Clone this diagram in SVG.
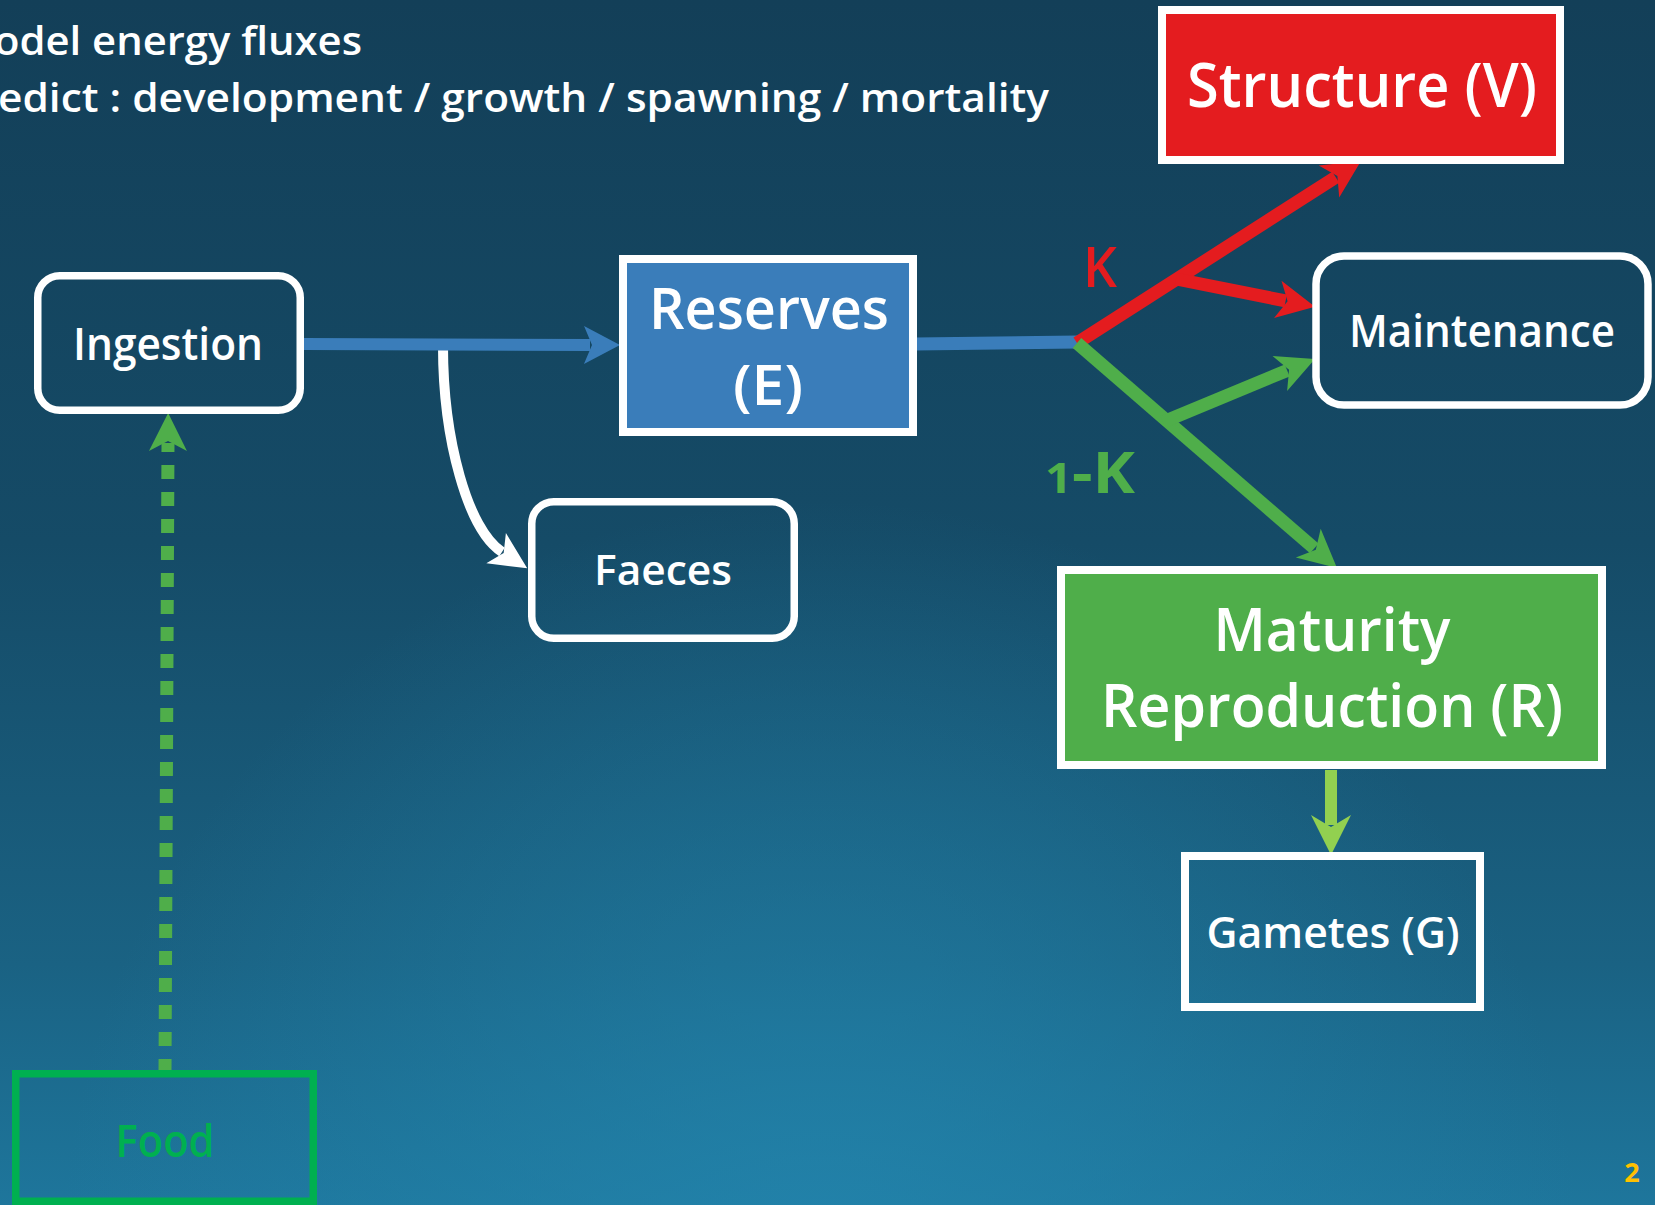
<svg xmlns="http://www.w3.org/2000/svg" width="1655" height="1205" viewBox="0 0 1655 1205">
  <defs>
    <linearGradient id="bg" x1="0" y1="0" x2="0" y2="1">
      <stop offset="0" stop-color="#133f58"/>
      <stop offset="0.45" stop-color="#154b67"/>
      <stop offset="0.8" stop-color="#1a6283"/>
      <stop offset="1" stop-color="#1e769c"/>
    </linearGradient>
    <radialGradient id="glow" cx="820" cy="1260" r="760" gradientUnits="userSpaceOnUse">
      <stop offset="0" stop-color="#2386ae" stop-opacity="0.75"/>
      <stop offset="1" stop-color="#2386ae" stop-opacity="0"/>
    </radialGradient>
    <!-- stealth arrowheads: tip 30px ahead of the line end, notch 2px inside -->
    <marker id="hd-blue" markerUnits="userSpaceOnUse" markerWidth="80" markerHeight="80" refX="0" refY="0" orient="auto" overflow="visible">
      <path d="M30,0 L-6,-19 L2,0 L-6,19 Z" fill="#3a7dba"/>
    </marker>
    <marker id="hd-red" markerUnits="userSpaceOnUse" markerWidth="80" markerHeight="80" refX="0" refY="0" orient="auto" overflow="visible">
      <path d="M30,0 L-8,-19 L2,0 L-8,19 Z" fill="#e41c1f"/>
    </marker>
    <marker id="hd-green" markerUnits="userSpaceOnUse" markerWidth="80" markerHeight="80" refX="0" refY="0" orient="auto" overflow="visible">
      <path d="M30,0 L-8,-19 L2,0 L-8,19 Z" fill="#4fae4a"/>
    </marker>
    <marker id="hd-lime" markerUnits="userSpaceOnUse" markerWidth="80" markerHeight="80" refX="0" refY="0" orient="auto" overflow="visible">
      <path d="M30,0 L-10,-20 L2,0 L-10,20 Z" fill="#92d050"/>
    </marker>
    <marker id="hd-white" markerUnits="userSpaceOnUse" markerWidth="80" markerHeight="80" refX="0" refY="0" orient="auto" overflow="visible">
      <path d="M30,0 L-7,-18 L2,0 L-7,18 Z" fill="#ffffff"/>
    </marker>
  </defs>
  <style>
    .lbl { font-family: "Open Sans", "Noto Sans", "DejaVu Sans", sans-serif; font-weight: 600; fill: #ffffff; text-anchor: middle; }
    .body { font-family: "Open Sans", "Noto Sans", "DejaVu Sans", sans-serif; font-weight: 600; fill: #ffffff; font-size: 40px; }
    .round { fill: none; stroke: #ffffff; stroke-width: 7.5; }
    .square { stroke: #ffffff; stroke-width: 8; }
    .flow { fill: none; stroke-linecap: butt; stroke-linejoin: round; }
  </style>

  <!-- background -->
  <rect x="0" y="0" width="1655" height="1205" fill="url(#bg)"/>
  <rect x="0" y="0" width="1655" height="1205" fill="url(#glow)"/>

  <!-- bullet lines -->
  <g id="header">
    <text class="body" x="-6" y="55" textLength="368" lengthAdjust="spacingAndGlyphs">odel energy fluxes</text>
    <text class="body" x="-2" y="112" textLength="1051" lengthAdjust="spacingAndGlyphs">edict : development / growth / spawning / mortality</text>
  </g>

  <!-- connectors -->
  <g id="connectors">
    <!-- faeces loss (drawn under the assimilation line) -->
    <path class="flow" d="M443,346 C443,440 468,530 502,552" stroke="#ffffff" stroke-width="10" marker-end="url(#hd-white)"/>
    <!-- ingestion to reserves -->
    <path class="flow" d="M304,344 L590,345" stroke="#3a7dba" stroke-width="12" marker-end="url(#hd-blue)"/>
    <!-- reserves to kappa split -->
    <path class="flow" d="M915,344 L1078,342" stroke="#3a7dba" stroke-width="13"/>
    <!-- kappa branch -->
    <path class="flow" d="M1077,343 L1335.7,177.2" stroke="#e41c1f" stroke-width="13" marker-end="url(#hd-red)"/>
    <path class="flow" d="M1176,279 L1285.6,300.9" stroke="#e41c1f" stroke-width="13" marker-end="url(#hd-red)"/>
    <!-- 1-kappa branch -->
    <path class="flow" d="M1077,343 L1314.3,548.4" stroke="#4fae4a" stroke-width="13" marker-end="url(#hd-green)"/>
    <path class="flow" d="M1163,422 L1287.2,370.4" stroke="#4fae4a" stroke-width="13" marker-end="url(#hd-green)"/>
    <!-- maturity/reproduction to gametes -->
    <path class="flow" d="M1331,770 L1331,825" stroke="#92d050" stroke-width="12" marker-end="url(#hd-lime)"/>
    <!-- food uptake (dotted) -->
    <path class="flow" d="M165,1073 L168,443" stroke="#4fae4a" stroke-width="13" stroke-dasharray="14 13" marker-end="url(#hd-green)"/>
  </g>

  <!-- flux labels -->
  <g id="labels">
    <text x="1083" y="287" font-family="Open Sans, Noto Sans, sans-serif" font-weight="600" font-size="56" fill="#e41c1f" textLength="34" lengthAdjust="spacingAndGlyphs">K</text>
    <text x="1045" y="493" font-family="Open Sans, Noto Sans, sans-serif" font-weight="700" font-size="57" fill="#4fae4a" textLength="90" lengthAdjust="spacingAndGlyphs"><tspan font-size="42">1</tspan>-K</text>
  </g>

  <g id="node-ingestion">
    <rect class="round" x="37.75" y="275.75" width="262.5" height="134.5" rx="22"/>
    <text class="lbl" x="168" y="360" font-size="45" textLength="190" lengthAdjust="spacingAndGlyphs">Ingestion</text>
  </g>

  <g id="node-reserves">
    <rect class="square" x="623" y="259" width="290" height="173" fill="#3a7dba"/>
    <text class="lbl" x="769" y="329" font-size="58" textLength="240" lengthAdjust="spacingAndGlyphs">Reserves</text>
    <text class="lbl" x="768" y="405" font-size="56" textLength="70" lengthAdjust="spacingAndGlyphs">(E)</text>
  </g>

  <g id="node-faeces">
    <rect class="round" x="531.75" y="501.75" width="262.5" height="136.5" rx="22"/>
    <text class="lbl" x="663" y="585" font-size="42" textLength="138" lengthAdjust="spacingAndGlyphs">Faeces</text>
  </g>

  <g id="node-structure">
    <rect class="square" x="1162" y="10" width="398" height="150" fill="#e41c1f"/>
    <text class="lbl" x="1362" y="107" font-size="62" textLength="350" lengthAdjust="spacingAndGlyphs">Structure (V)</text>
  </g>

  <g id="node-maintenance">
    <rect class="round" x="1316" y="256" width="332" height="149" rx="28" stroke-width="8"/>
    <text class="lbl" x="1482" y="347" font-size="45" textLength="266" lengthAdjust="spacingAndGlyphs">Maintenance</text>
  </g>

  <g id="node-maturity">
    <rect class="square" x="1061" y="570" width="541" height="195" fill="#4fae4a"/>
    <text class="lbl" x="1332" y="651" font-size="60" textLength="237" lengthAdjust="spacingAndGlyphs">Maturity</text>
    <text class="lbl" x="1332" y="727" font-size="60" textLength="462" lengthAdjust="spacingAndGlyphs">Reproduction (R)</text>
  </g>

  <g id="node-gametes">
    <rect class="square" x="1185" y="856" width="295" height="151" fill="none"/>
    <text class="lbl" x="1333" y="948" font-size="44" textLength="253" lengthAdjust="spacingAndGlyphs">Gametes (G)</text>
  </g>

  <g id="node-food">
    <rect x="15.75" y="1073.75" width="297.5" height="127.5" fill="none" stroke="#00b050" stroke-width="7.5"/>
    <text x="165" y="1157" font-family="Open Sans, Noto Sans, sans-serif" font-weight="600" font-size="46" fill="#00b050" text-anchor="middle" textLength="99" lengthAdjust="spacingAndGlyphs">Food</text>
  </g>

  <!-- slide number -->
  <text x="1632" y="1182" font-family="Open Sans, Noto Sans, sans-serif" font-weight="700" font-size="27" fill="#ffc000" text-anchor="middle">2</text>
</svg>
